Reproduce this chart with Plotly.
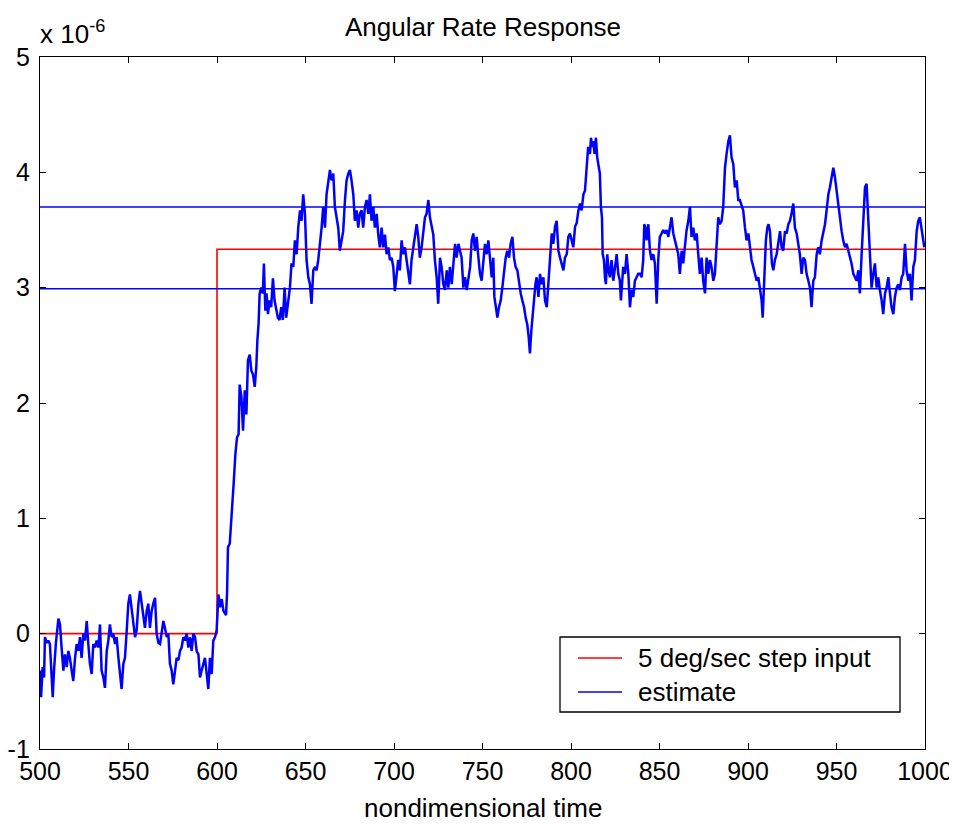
import plotly.graph_objects as go

# ---- data (values in units of 1e-6) ----
step_t = [500, 600, 600, 1000]
step_v = [0.0, 0.0, 3.333, 3.333]

band_lo = 2.99
band_hi = 3.70
band_t = [500, 1000]

est_seg1 = [(500.0, -0.32), (500.6, -0.55), (501.5, -0.29), (502.3, -0.38), (502.8, -0.03), (503.8, -0.08),
            (504.7, -0.06), (505.6, -0.09), (506.6, -0.38), (507.2, -0.55), (507.9, -0.32), (509.0, -0.08),
            (510.4, 0.13), (511.3, 0.08), (512.2, -0.12), (513.2, -0.32), (514.1, -0.18), (515.1, -0.29),
            (516.0, -0.15), (516.9, -0.21), (517.9, -0.32), (518.8, -0.41), (519.8, -0.21), (520.7, -0.09),
            (521.7, -0.15), (522.6, -0.03), (523.5, -0.21), (524.5, 0.00), (525.4, -0.06), (526.4, 0.11),
            (527.3, -0.09), (528.2, -0.26), (529.2, -0.35), (530.1, -0.09), (531.1, -0.12), (532.0, -0.06),
            (533.0, -0.12), (533.9, 0.08), (534.8, -0.32), (535.8, -0.38), (536.7, -0.47), (537.7, -0.15),
            (538.6, -0.06), (539.5, 0.08), (540.5, -0.03), (541.4, 0.00), (542.4, -0.09), (543.3, -0.03),
            (544.3, -0.21), (545.2, -0.32), (546.1, -0.48), (547.1, -0.26), (548.0, -0.21), (549.0, 0.03),
            (549.9, 0.26), (550.8, 0.34), (551.8, 0.20), (552.7, 0.11), (553.7, -0.03), (554.6, 0.03),
            (555.6, 0.26), (556.5, 0.37), (557.4, 0.26), (558.4, 0.11), (559.3, 0.05), (560.3, 0.20),
            (561.2, 0.26), (562.1, 0.05), (563.1, 0.20), (564.0, 0.26), (565.0, 0.31), (565.9, 0.00),
            (566.9, -0.08), (567.8, -0.09), (568.7, 0.00), (569.7, 0.11), (570.6, 0.05), (571.6, -0.03),
            (572.5, 0.00), (573.4, -0.26), (574.4, -0.32), (575.3, -0.44), (576.3, -0.32), (577.2, -0.21),
            (578.2, -0.23), (579.1, -0.15), (580.0, -0.12), (581.0, -0.03), (581.9, -0.06), (582.9, 0.00),
            (583.8, -0.12), (584.7, -0.03), (585.7, -0.15), (586.6, 0.00), (587.6, -0.03), (588.5, -0.15),
            (589.5, -0.18), (590.4, -0.38), (591.3, -0.32), (592.3, -0.26), (593.2, -0.21), (594.2, -0.35),
            (595.1, -0.48), (596.0, -0.21), (597.0, -0.35), (597.9, -0.06), (598.9, -0.03), (599.8, 0.03)]

est_seg2 = [(600.8, 0.34), (601.7, 0.23), (602.7, 0.30), (603.6, 0.20), (604.5, 0.17), (605.1, 0.16),
            (605.7, 0.36), (606.2, 0.75), (607.2, 0.78), (607.7, 0.89), (608.5, 1.04), (609.4, 1.30),
            (610.4, 1.56), (611.3, 1.70), (612.2, 1.73), (612.8, 2.16), (613.8, 2.05), (614.7, 1.76),
            (615.7, 2.11), (616.6, 1.90), (617.5, 2.37), (618.5, 2.42), (619.4, 2.28), (620.3, 2.25),
            (621.3, 2.14), (622.2, 2.31), (622.8, 2.54), (623.5, 2.69), (624.1, 2.95), (625.0, 3.00),
            (625.9, 2.95), (626.5, 3.21), (627.3, 2.80), (628.0, 2.95), (628.8, 2.77), (629.7, 2.89),
            (630.6, 2.83), (631.6, 3.08), (632.5, 2.89), (633.5, 2.80), (634.4, 2.74), (635.3, 2.72),
            (636.3, 2.83), (637.2, 2.72), (638.2, 3.00), (639.1, 2.74), (640.0, 2.86)]

est_seg3 = [(641.2, 3.00), (642.1, 3.21), (643.1, 3.18), (644.0, 3.41), (645.0, 3.29), (645.9, 3.52),
            (646.9, 3.67), (647.8, 3.58), (648.7, 3.81), (649.7, 3.64), (650.6, 3.24), (651.6, 3.09),
            (652.5, 3.03), (653.4, 2.86), (654.4, 3.15), (655.3, 3.18), (656.3, 3.15), (657.2, 3.24),
            (658.1, 3.35), (659.1, 3.52), (660.0, 3.70), (661.0, 3.52), (661.9, 3.81), (662.9, 3.93),
            (663.8, 4.02), (664.7, 3.93), (665.7, 3.99), (666.6, 3.70), (667.6, 3.58), (668.5, 3.52),
            (669.4, 3.32), (670.4, 3.41), (671.3, 3.49), (672.3, 3.76), (673.2, 3.93), (674.2, 3.99),
            (675.1, 4.02), (676.0, 3.93), (677.0, 3.81), (677.9, 3.58), (678.9, 3.67), (679.8, 3.52),
            (680.7, 3.64), (681.7, 3.67), (682.6, 3.52), (683.6, 3.70), (684.5, 3.76), (685.5, 3.64),
            (686.4, 3.81), (687.3, 3.58), (688.3, 3.70), (689.2, 3.52), (690.2, 3.64), (691.1, 3.46),
            (692.0, 3.35), (693.0, 3.52), (693.9, 3.35), (694.9, 3.46), (695.8, 3.29), (696.8, 3.35),
            (697.7, 3.24), (698.6, 3.26), (699.6, 3.18), (700.5, 2.97), (701.5, 3.15), (702.4, 3.24),
            (703.3, 3.15), (704.3, 3.41), (705.2, 3.29), (706.2, 3.35), (707.1, 3.24), (708.1, 3.12),
            (709.0, 3.03), (709.9, 3.24), (710.9, 3.35), (711.8, 3.46), (712.8, 3.55), (713.7, 3.44),
            (714.6, 3.26), (715.6, 3.35), (716.5, 3.49), (717.5, 3.61), (718.4, 3.64), (719.4, 3.76),
            (720.3, 3.61), (721.2, 3.55), (722.2, 3.46), (723.1, 3.24), (724.1, 3.09), (725.0, 2.86)]

est_seg4 = [(726.0, 3.26), (726.9, 3.18), (727.9, 3.03), (728.8, 2.98), (729.8, 3.15), (730.7, 3.00),
            (731.6, 3.18), (732.6, 3.03), (733.5, 3.23), (734.5, 3.38), (735.4, 3.26), (736.4, 3.38),
            (737.3, 3.32), (738.2, 3.26), (739.2, 3.00), (740.1, 3.09), (741.1, 2.98), (742.0, 3.09),
            (743.0, 3.18), (743.9, 3.41), (744.8, 3.47), (745.8, 3.32), (746.7, 3.44), (747.7, 3.26),
            (748.6, 3.12), (749.5, 3.06), (750.5, 3.26), (751.4, 3.38), (752.4, 3.29), (753.3, 3.41),
            (754.2, 3.26), (755.2, 3.09), (756.1, 3.26), (756.7, 2.92), (757.6, 2.83), (758.4, 2.74),
            (759.3, 2.83), (760.3, 2.89), (761.2, 3.00), (762.2, 3.15), (763.1, 3.26), (764.0, 3.32),
            (765.0, 3.26), (765.9, 3.38), (766.9, 3.44), (767.8, 3.26), (768.7, 3.18), (769.7, 3.15),
            (770.6, 3.03), (771.6, 2.95), (772.5, 2.89), (773.5, 2.83), (774.4, 2.74), (775.3, 2.68),
            (776.1, 2.57), (776.8, 2.43), (777.6, 2.63), (778.4, 2.74), (779.1, 2.89), (779.9, 3.03),
            (780.6, 3.09), (781.6, 2.92), (782.5, 3.12), (783.4, 3.03), (784.4, 3.09), (785.3, 2.89),
            (786.3, 2.83), (787.2, 3.03), (788.1, 3.21), (789.1, 3.47), (790.0, 3.38), (791.0, 3.53),
            (791.9, 3.58), (792.9, 3.32), (793.8, 3.26), (794.7, 3.21), (795.7, 3.15), (796.6, 3.26),
            (797.6, 3.29), (798.5, 3.44), (799.4, 3.47), (800.4, 3.41), (801.3, 3.35), (802.3, 3.53),
            (803.2, 3.56), (804.2, 3.67), (805.1, 3.73), (806.0, 3.67), (807.0, 3.81), (807.9, 3.84),
            (808.8, 4.00), (809.7, 4.22)]

est_seg5 = [(810.7, 4.16), (811.3, 4.30), (811.8, 4.22), (812.6, 4.27), (813.3, 4.16), (814.1, 4.30),
            (814.8, 4.13), (815.6, 4.04), (816.3, 3.99), (816.9, 3.70), (817.5, 3.61), (817.9, 3.29),
            (818.6, 3.24), (819.2, 3.09), (819.7, 3.03), (820.5, 3.29), (821.2, 3.15), (822.0, 3.09),
            (822.9, 3.24), (823.9, 3.06), (824.8, 3.18), (825.8, 3.29), (826.7, 3.12), (827.6, 3.06),
            (828.2, 2.89), (829.0, 3.09), (829.5, 3.18), (830.5, 3.12), (831.4, 3.29), (832.4, 3.12),
            (833.3, 2.83), (834.2, 2.98), (835.2, 2.92), (836.1, 3.06), (837.1, 3.09), (838.0, 3.12),
            (839.0, 3.12), (839.9, 3.09), (840.8, 3.24), (841.4, 3.55), (842.1, 3.52), (842.7, 3.41),
            (843.7, 3.55), (844.6, 3.32), (845.5, 3.24), (846.5, 3.29), (847.4, 3.21), (848.4, 2.86),
            (849.3, 3.24), (850.2, 3.44), (851.2, 3.47), (852.1, 3.50), (853.1, 3.47), (854.0, 3.50),
            (855.0, 3.44), (855.9, 3.52), (856.8, 3.61), (857.8, 3.47), (858.7, 3.41), (859.7, 3.35),
            (860.6, 3.29), (861.5, 3.12), (862.5, 3.32), (863.4, 3.21), (864.4, 3.35), (865.3, 3.50),
            (866.3, 3.58), (867.2, 3.70), (868.1, 3.44), (869.1, 3.52), (870.0, 3.41), (871.0, 3.47),
            (871.9, 3.29), (872.8, 3.12), (873.8, 3.26), (874.7, 3.06), (875.7, 2.95), (876.6, 3.26),
            (877.6, 3.12), (878.5, 3.24), (879.4, 3.18), (880.4, 3.06), (881.3, 3.12), (882.3, 3.41),
            (883.2, 3.61), (884.1, 3.55), (885.1, 3.58), (886.0, 3.70), (887.0, 4.04), (887.9, 4.16),
            (888.9, 4.27), (889.8, 4.32), (890.7, 4.13), (891.7, 4.07), (892.6, 3.87), (893.6, 3.93),
            (894.5, 3.76), (895.4, 3.76), (896.4, 3.70), (897.3, 3.67), (898.3, 3.52), (899.2, 3.41),
            (900.2, 3.47)]

est_seg6 = [(901.1, 3.35), (902.0, 3.24), (903.0, 3.18), (903.9, 3.12), (904.9, 3.06), (905.8, 3.09),
            (906.7, 3.00), (907.7, 2.89), (908.3, 2.74), (909.0, 3.00), (909.6, 3.12), (910.1, 3.41),
            (910.9, 3.52), (911.6, 3.55), (912.4, 3.49), (913.0, 3.29), (913.5, 3.21), (914.3, 3.15),
            (915.2, 3.24), (916.2, 3.29), (917.1, 3.38), (918.1, 3.49), (919.0, 3.35), (919.9, 3.32),
            (920.9, 3.49), (921.8, 3.47), (922.8, 3.55), (923.7, 3.58), (924.6, 3.64), (925.6, 3.73),
            (926.5, 3.52), (927.5, 3.47), (928.4, 3.38), (929.3, 3.29), (930.3, 3.12), (931.2, 3.26),
            (932.2, 3.24), (933.1, 3.12), (934.1, 3.06), (935.0, 3.00), (935.9, 2.83), (936.9, 3.06),
            (937.8, 3.09), (938.8, 3.29), (939.7, 3.35), (940.6, 3.29), (941.6, 3.41), (942.5, 3.47),
            (943.5, 3.55), (944.4, 3.67), (945.4, 3.81), (946.3, 3.87), (947.2, 3.96), (948.2, 4.04),
            (949.1, 3.96), (950.1, 3.84), (951.0, 3.73), (951.9, 3.58), (952.9, 3.49), (953.8, 3.41),
            (954.8, 3.35), (955.7, 3.38), (956.7, 3.32), (957.6, 3.24), (958.5, 3.21), (959.5, 3.12),
            (960.4, 3.09), (961.4, 3.06), (962.3, 3.15), (963.2, 2.95), (964.2, 3.29), (965.1, 3.58),
            (966.1, 3.87), (967.0, 3.90), (967.6, 3.70), (968.3, 3.58), (968.9, 3.24), (969.8, 3.00),
            (970.8, 3.12), (971.7, 3.21), (972.7, 3.00), (973.6, 3.09), (974.5, 2.98), (975.5, 2.89),
            (976.4, 2.77), (977.4, 2.95), (978.3, 3.00), (979.3, 3.09), (980.2, 2.95), (981.1, 2.83),
            (982.1, 2.77), (983.0, 2.92), (984.0, 3.00), (984.9, 3.03), (985.8, 2.98), (986.8, 3.09),
            (987.7, 3.12), (988.7, 3.38), (989.6, 3.15), (990.6, 3.06), (991.5, 3.12), (992.4, 2.89),
            (993.4, 3.18), (994.3, 3.24), (995.3, 3.49), (996.2, 3.58), (997.1, 3.61), (998.1, 3.52),
            (999.0, 3.44), (999.6, 3.35)]

x_ticks = [500, 550, 600, 650, 700, 750, 800, 850, 900, 950, 1000]
y_ticks = [-1, 0, 1, 2, 3, 4, 5]

title_text = "Angular Rate Response"
xlabel_text = "nondimensional time"
exp_text = "x 10<sup>-6</sup>"
step_name = "5 deg/sec step input"
est_name = "estimate"

# ---- build ----
est = est_seg1 + est_seg2 + est_seg3 + est_seg4 + est_seg5 + est_seg6
est_t = [p[0] for p in est]
est_v = [p[1] for p in est]

RED = "#ff0000"
BLUE = "#0000ff"
FONT = "Liberation Sans, Arial, Helvetica, sans-serif"
FS_TICK = 25
FS_TEXT = 26

# page has an 8px body margin; figure sized to fill the rest of the window
FIG_W, FIG_H = 949, 817
PLOT_W, PLOT_H = 885, 692   # target plot area in window px: x 40..925, y 57..749


def px_x(x):  # window px -> paper x
    return (x - 40) / PLOT_W


def px_y(y):  # window px -> paper y
    return (749 - y) / PLOT_H


fig = go.Figure()
fig.add_trace(go.Scatter(x=step_t, y=step_v, mode="lines", name=step_name,
                         line=dict(color=RED, width=1.6), showlegend=False))
fig.add_trace(go.Scatter(x=est_t, y=est_v, mode="lines", name=est_name,
                         line=dict(color=BLUE, width=2.5), showlegend=False))
fig.add_trace(go.Scatter(x=band_t, y=[band_lo, band_lo], mode="lines", showlegend=False,
                         line=dict(color=BLUE, width=1.6)))
fig.add_trace(go.Scatter(x=band_t, y=[band_hi, band_hi], mode="lines", showlegend=False,
                         line=dict(color=BLUE, width=1.6)))

axis_common = dict(showline=True, linecolor="black", linewidth=1.3, mirror="ticks",
                   ticks="inside", ticklen=6, tickcolor="black", tickwidth=1.3,
                   showgrid=False, zeroline=False, automargin=False,
                   tickfont=dict(family=FONT, size=FS_TICK, color="black"))

fig.update_xaxes(range=[500, 1000], tickvals=x_ticks, ticktext=[str(v) for v in x_ticks],
                 **axis_common)
fig.update_yaxes(range=[-1, 5], tickvals=y_ticks, ticktext=[str(v) for v in y_ticks],
                 ticklabelstandoff=4, **axis_common)

# legend box drawn in the MATLAB style
legend_entries = [(step_name, RED, 658), (est_name, BLUE, 692)]
shapes = [dict(type="rect", xref="paper", yref="paper",
               x0=px_x(560), x1=px_x(900), y0=px_y(712), y1=px_y(637),
               line=dict(color="black", width=1.3), fillcolor="white", layer="above")]
annotations = [
    dict(text=title_text, xref="paper", yref="paper", x=0.5, y=1 + (57 - 27) / PLOT_H,
         xanchor="center", yanchor="middle", showarrow=False,
         font=dict(family=FONT, size=FS_TEXT, color="black")),
    dict(text=xlabel_text, xref="paper", yref="paper", x=0.5, y=-(808 - 749) / PLOT_H,
         xanchor="center", yanchor="middle", showarrow=False,
         font=dict(family=FONT, size=FS_TEXT, color="black")),
    dict(text=exp_text, xref="paper", yref="paper", x=0, y=1, xanchor="left", yanchor="bottom",
         xshift=-2, yshift=6, showarrow=False, font=dict(family=FONT, size=FS_TEXT, color="black")),
]
for name, color, ypix in legend_entries:
    shapes.append(dict(type="line", xref="paper", yref="paper",
                       x0=px_x(578), x1=px_x(622), y0=px_y(ypix), y1=px_y(ypix),
                       line=dict(color=color, width=1.6), layer="above"))
    annotations.append(dict(text=name, xref="paper", yref="paper", x=px_x(636), y=px_y(ypix),
                            xanchor="left", yanchor="middle", showarrow=False,
                            font=dict(family=FONT, size=FS_TEXT, color="black")))

fig.update_layout(
    width=FIG_W, height=FIG_H,
    margin=dict(l=32, r=FIG_W - (925 - 8), t=49, b=FIG_H - (749 - 8), autoexpand=False),
    paper_bgcolor="white", plot_bgcolor="white",
    font=dict(family=FONT, size=FS_TEXT, color="black"),
    showlegend=False,
    shapes=shapes,
    annotations=annotations,
)

fig.write_html("out.html")
